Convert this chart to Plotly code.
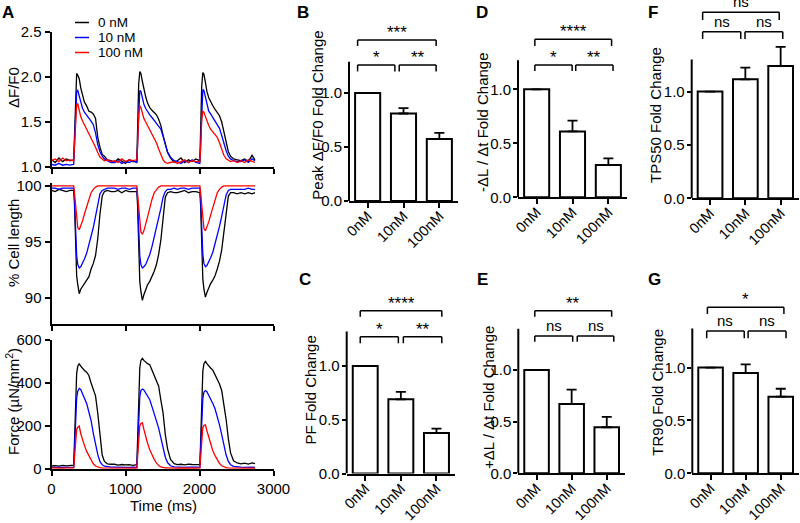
import plotly.graph_objects as go

W, H = 800, 523
FONT = "Liberation Sans, Arial, sans-serif"

# ---------------- data: panel A (time courses) ----------------
TIME_MS = [0, 50, 100, 150, 200, 250,
           300, 310, 325, 340, 355, 375, 395, 420, 445, 475, 505, 535, 565, 595, 625, 655, 685, 715, 755, 805,
           850, 900, 950, 1000, 1050, 1100,
           1153, 1163, 1178, 1193, 1208, 1228, 1248, 1273, 1298, 1328, 1358, 1388, 1418, 1448, 1478, 1508, 1538, 1568, 1608, 1658,
           1700, 1750, 1800, 1850, 1900, 1950,
           2005, 2015, 2030, 2045, 2060, 2080, 2100, 2125, 2150, 2180, 2210, 2240, 2270, 2300, 2330, 2360, 2390, 2420, 2460, 2510,
           2560, 2610, 2660, 2710, 2750]

DFF0_0NM = [1.08, 1.05, 1.10, 1.06, 1.09, 1.07,
            1.08, 1.35, 1.88, 2.04, 2.02, 1.98, 1.88, 1.81, 1.72, 1.68, 1.62, 1.61, 1.59, 1.54, 1.33, 1.22, 1.14, 1.12, 1.08, 1.07,
            1.05, 1.09, 1.06, 1.04, 1.08, 1.06,
            1.06, 1.40, 1.92, 2.06, 2.04, 1.95, 1.86, 1.78, 1.71, 1.66, 1.63, 1.60, 1.58, 1.53, 1.46, 1.35, 1.24, 1.16, 1.10, 1.05,
            1.07, 1.10, 1.05, 1.08, 1.06, 1.09,
            1.07, 1.38, 1.90, 2.05, 2.03, 1.94, 1.84, 1.77, 1.72, 1.68, 1.64, 1.60, 1.57, 1.50, 1.38, 1.26, 1.17, 1.12, 1.09, 1.08,
            1.07, 1.09, 1.06, 1.13, 1.08]
DFF0_10NM = [1.03, 1.02, 1.04, 1.02, 1.03, 1.02,
             1.03, 1.25, 1.70, 1.84, 1.85, 1.78, 1.72, 1.65, 1.61, 1.58, 1.54, 1.51, 1.47, 1.38, 1.25, 1.17, 1.12, 1.09, 1.07, 1.05,
             1.05, 1.07, 1.04, 1.06, 1.05, 1.07,
             1.05, 1.28, 1.72, 1.85, 1.84, 1.76, 1.70, 1.65, 1.61, 1.58, 1.55, 1.52, 1.49, 1.46, 1.42, 1.34, 1.25, 1.17, 1.11, 1.07,
             1.06, 1.04, 1.07, 1.05, 1.08, 1.05,
             1.04, 1.27, 1.72, 1.86, 1.85, 1.77, 1.68, 1.62, 1.59, 1.55, 1.52, 1.48, 1.43, 1.35, 1.26, 1.18, 1.12, 1.09, 1.07, 1.06,
             1.06, 1.08, 1.05, 1.09, 1.07]
DFF0_100NM = [1.07, 1.09, 1.06, 1.10, 1.07, 1.08,
              1.07, 1.22, 1.58, 1.69, 1.70, 1.62, 1.56, 1.51, 1.47, 1.43, 1.38, 1.33, 1.28, 1.22, 1.16, 1.11, 1.09, 1.07, 1.08, 1.06,
              1.07, 1.05, 1.09, 1.06, 1.08, 1.07,
              1.08, 1.22, 1.58, 1.68, 1.66, 1.59, 1.54, 1.50, 1.46, 1.41, 1.38, 1.32, 1.27, 1.20, 1.13, 1.08, 1.05, 1.04, 1.05, 1.06,
              1.04, 1.06, 1.08, 1.05, 1.07, 1.06,
              1.06, 1.20, 1.53, 1.62, 1.61, 1.56, 1.51, 1.46, 1.42, 1.39, 1.36, 1.33, 1.27, 1.20, 1.13, 1.09, 1.07, 1.06, 1.07, 1.05,
              1.07, 1.05, 1.08, 1.06, 1.05]

LEN_0NM = [99.6, 99.5, 99.7, 99.6, 99.5, 99.6,
           99.6, 98.5, 94.5, 92.0, 91.2, 90.4, 90.8, 91.1, 91.3, 91.6, 91.9, 92.6, 93.1, 93.8, 95.3, 97.5, 99.1, 99.5, 99.6, 99.5,
           99.5, 99.6, 99.4, 99.6, 99.5, 99.5,
           99.5, 98.3, 94.0, 91.5, 90.6, 89.8, 90.3, 90.8, 91.2, 91.5, 91.9, 92.4, 93.0, 93.9, 95.2, 97.3, 99.0, 99.4, 99.5, 99.4,
           99.4, 99.5, 99.6, 99.4, 99.5, 99.5,
           99.4, 98.3, 94.2, 91.7, 90.8, 90.1, 90.5, 91.0, 91.3, 91.6, 92.0, 92.6, 93.3, 94.3, 95.8, 97.8, 99.1, 99.4, 99.4, 99.3,
           99.4, 99.3, 99.4, 99.3, 99.4]
LEN_10NM = [99.8, 99.8, 99.7, 99.8, 99.8, 99.8,
            99.8, 98.9, 96.0, 93.8, 93.0, 92.7, 92.8, 93.1, 93.5, 94.0, 94.7, 95.5, 96.3, 97.3, 98.4, 99.3, 99.6, 99.7, 99.8, 99.8,
            99.8, 99.7, 99.8, 99.8, 99.7, 99.8,
            99.8, 98.9, 96.0, 93.8, 93.0, 92.7, 92.8, 93.0, 93.4, 93.9, 94.6, 95.4, 96.3, 97.1, 98.0, 99.0, 99.5, 99.7, 99.7, 99.8,
            99.7, 99.8, 99.8, 99.7, 99.8, 99.8,
            99.8, 98.9, 96.1, 93.9, 93.1, 92.8, 92.9, 93.2, 93.6, 94.1, 94.8, 95.6, 96.4, 97.3, 98.3, 99.2, 99.6, 99.7, 99.7, 99.7,
            99.7, 99.7, 99.8, 99.7, 99.7]
LEN_100NM = [100.0, 100.0, 99.95, 100.0, 100.0, 100.0,
             100.0, 99.4, 98.2, 97.0, 96.3, 96.1, 96.4, 96.9, 97.5, 98.2, 98.8, 99.4, 99.7, 99.9, 100.0, 100.0, 100.0, 99.95, 100.0, 100.0,
             100.0, 100.0, 99.95, 100.0, 100.0, 100.0,
             100.0, 99.3, 97.9, 96.6, 95.9, 95.7, 96.0, 96.6, 97.3, 98.1, 98.8, 99.4, 99.7, 99.9, 100.0, 100.0, 100.0, 100.0, 100.0, 100.0,
             100.0, 99.95, 100.0, 100.0, 100.0, 100.0,
             100.0, 99.4, 98.1, 96.8, 96.2, 96.0, 96.3, 96.8, 97.4, 98.1, 98.8, 99.4, 99.7, 99.9, 100.0, 100.0, 100.0, 100.0, 100.0, 100.0,
             100.0, 99.95, 100.0, 100.0, 100.0]

FORCE_0NM = [14, 16, 13, 17, 15, 18,
             18, 120, 330, 445, 478, 490, 478, 465, 458, 450, 435, 400, 370, 340, 260, 150, 65, 35, 24, 22,
             22, 18, 21, 19, 20, 17,
             20, 130, 350, 470, 505, 515, 505, 495, 490, 485, 460, 435, 410, 385, 320, 260, 160, 95, 45, 25,
             20, 22, 19, 23, 21, 20,
             20, 125, 340, 455, 490, 500, 490, 478, 470, 460, 440, 420, 395, 365, 300, 230, 140, 75, 38, 28,
             24, 27, 23, 28, 25]
FORCE_10NM = [8, 7, 9, 8, 8, 7,
              8, 80, 230, 330, 362, 375, 370, 352, 330, 305, 265, 225, 166, 112, 68, 34, 20, 13, 10, 9,
              9, 8, 10, 9, 8, 9,
              8, 80, 235, 335, 365, 372, 368, 355, 340, 322, 290, 258, 225, 190, 145, 98, 55, 30, 15, 10,
              9, 10, 8, 9, 10, 9,
              8, 78, 228, 328, 358, 365, 360, 345, 325, 305, 280, 245, 205, 160, 110, 65, 35, 20, 12, 9,
              9, 8, 10, 9, 8]
FORCE_100NM = [5, 4, 5, 4, 5, 5,
               5, 50, 140, 185, 195, 200, 165, 135, 110, 82, 60, 38, 24, 14, 9, 6, 5, 5, 5, 4,
               5, 4, 5, 5, 4, 5,
               4, 55, 150, 200, 212, 215, 185, 150, 120, 90, 65, 45, 28, 16, 10, 7, 5, 5, 4, 4,
               4, 5, 4, 5, 4, 4,
               5, 52, 145, 192, 203, 205, 178, 145, 115, 85, 62, 42, 26, 15, 9, 6, 5, 5, 4, 4,
               5, 4, 5, 4, 4]

SERIES_NAMES = ["0 nM", "10 nM", "100 nM"]
SERIES_COLORS = ["#000000", "#0000ff", "#ff0000"]

# ---------------- data: bar panels ----------------
CATEGORIES = ["0nM", "10nM", "100nM"]
PEAK_DFF0 = [1.0, 0.81, 0.575]
PEAK_DFF0_SEM = [0, 0.05, 0.055]
PF = [1.0, 0.69, 0.377]
PF_SEM = [0, 0.07, 0.04]
NEG_DLDT = [1.0, 0.61, 0.30]
NEG_DLDT_SEM = [0, 0.10, 0.06]
POS_DLDT = [1.0, 0.67, 0.446]
POS_DLDT_SEM = [0, 0.14, 0.10]
TPS50 = [1.0, 1.115, 1.24]
TPS50_SEM = [0, 0.11, 0.18]
TR90 = [1.0, 0.95, 0.725]
TR90_SEM = [0, 0.08, 0.075]


def xp(v):
    return v / W


def yp(v):
    return 1 - v / H


fig = go.Figure()
layout = dict(width=W, height=H, margin=dict(l=0, r=0, t=0, b=0, pad=0, autoexpand=False),
              paper_bgcolor="white", plot_bgcolor="white", showlegend=False,
              font=dict(family=FONT, color="black", size=15))
shapes = []
annotations = []

axis_common = dict(showline=True, linewidth=2, linecolor="black", ticks="outside",
                   ticklen=5, tickwidth=1.5, tickcolor="black", showgrid=False,
                   zeroline=False, automargin=False, tickfont=dict(size=15, family=FONT))

# ---------------- panel A ----------------
A_XDOM = [xp(51.5), xp(273.5)]
A_PANELS = [
    ([DFF0_0NM, DFF0_10NM, DFF0_100NM], (167, 32), [1.0, 2.5], [1.0, 1.5, 2.0, 2.5], ["1.0", "1.5", "2.0", "2.5"], False),
    ([LEN_0NM, LEN_10NM, LEN_100NM], (324, 182.6), [87.7, 100.3], [90, 95, 100], ["90", "95", "100"], False),
    ([FORCE_0NM, FORCE_10NM, FORCE_100NM], (469, 340), [0, 600], [0, 200, 400, 600], ["0", "200", "400", "600"], True),
]
for i, (series, (yb, yt), yr, tv, tt, labels) in enumerate(A_PANELS, start=1):
    sx = "" if i == 1 else str(i)
    for vals, name, col in zip(series, SERIES_NAMES, SERIES_COLORS):
        fig.add_trace(go.Scatter(x=TIME_MS, y=vals, mode="lines", name=name,
                                 line=dict(color=col, width=1.3),
                                 xaxis="x" + sx, yaxis="y" + sx))
    layout["xaxis" + sx] = dict(axis_common, domain=A_XDOM, range=[0, 3000], anchor="y" + sx,
                                tickvals=[0, 1000, 2000, 3000],
                                ticktext=["0", "1000", "2000", "3000"],
                                showticklabels=labels)
    layout["yaxis" + sx] = dict(axis_common, domain=[yp(yb), yp(yt)], range=yr, anchor="x" + sx,
                                tickvals=tv, ticktext=tt)

# axis titles panel A
for txt, (cx, cy) in [("ΔF/F0", (13, 88)), ("% Cell length", (13, 243)),
                      ("Force (µN/mm<sup>2</sup>)", (13, 402))]:
    annotations.append(dict(text=txt, x=xp(cx), y=yp(cy), xref="paper", yref="paper",
                            textangle=-90, showarrow=False, xanchor="center", yanchor="middle",
                            font=dict(size=15)))
annotations.append(dict(text="Time (ms)", x=xp(163), y=yp(505), xref="paper", yref="paper",
                        showarrow=False, xanchor="center", yanchor="middle", font=dict(size=15)))

# legend (manual)
for j, (name, col) in enumerate(zip(SERIES_NAMES, SERIES_COLORS)):
    ly = 22.5 + 15 * j
    shapes.append(dict(type="line", xref="paper", yref="paper", x0=xp(75), x1=xp(89),
                       y0=yp(ly), y1=yp(ly), line=dict(color=col, width=1.5)))
    annotations.append(dict(text=name, x=xp(96), y=yp(ly), xref="paper", yref="paper",
                            showarrow=False, xanchor="left", yanchor="middle", font=dict(size=13.5)))

# ---------------- bar panels ----------------
BAR_PANELS = [
    # key, values, sem, (x0px, x1px, zero_py, px_per_unit, top_py), axis_top, title, title_pos, brackets
    ("4", PEAK_DFF0, PEAK_DFF0_SEM, (349, 458, 201, 108, 4), 1.29, "Peak ΔF/F0 Fold Change", (316.7, 115),
     [(-0.28, 0.76, 1.26, 1.20, "*"), (0.88, 1.91, 1.26, 1.20, "**"), (-0.28, 1.91, 1.49, 1.435, "***")]),
    ("5", PF, PF_SEM, (346.7, 455, 473.5, 107.5, 268), 1.32, "PF Fold Change", (309.5, 390),
     [(-0.14, 0.93, 1.273, 1.211, "*"), (1.07, 2.15, 1.273, 1.211, "**"), (-0.14, 2.15, 1.514, 1.459, "****")]),
    ("6", NEG_DLDT, NEG_DLDT_SEM, (518, 627, 197.3, 108, 4), 1.27, "-ΔL / Δt Fold Change", (482, 122),
     [(-0.05, 0.99, 1.225, 1.169, "*"), (1.09, 2.13, 1.225, 1.169, "**"), (-0.05, 2.09, 1.463, 1.40, "****")]),
    ("7", POS_DLDT, POS_DLDT_SEM, (518.3, 625, 473.3, 103.3, 268), 1.40, "+ΔL / Δt Fold Change", (488, 398),
     [(-0.05, 1.03, 1.329, 1.274, "ns"), (1.16, 2.2, 1.329, 1.274, "ns"), (-0.05, 2.14, 1.574, 1.516, "**")]),
    ("8", TPS50, TPS50_SEM, (691.7, 799, 198.3, 106.7, 0), 1.30, "TPS50 Fold Change", (655, 115),
     [(-0.21, 0.87, 1.561, 1.493, "ns"), (0.99, 2.06, 1.561, 1.493, "ns"), (-0.21, 1.96, 1.743, 1.672, "ns")]),
    ("9", TR90, TR90_SEM, (692.3, 799, 473.3, 105.7, 268), 1.37, "TR90 Fold Change", (656.7, 392),
     [(-0.11, 0.96, 1.346, 1.277, "ns"), (1.07, 2.15, 1.346, 1.277, "ns"), (-0.09, 2.09, 1.570, 1.507, "*")]),
]

for key, vals, sem, (x0p, x1p, zp, ppu, tp), ytop, title, (tx, ty), brackets in BAR_PANELS:
    fig.add_trace(go.Bar(x=CATEGORIES, y=vals, width=0.7,
                         marker=dict(color="white", line=dict(color="black", width=2)),
                         error_y=dict(type="data", symmetric=False, array=sem,
                                      arrayminus=[0, 0, 0], color="black", thickness=1.8, width=5),
                         xaxis="x" + key, yaxis="y" + key))
    layout["xaxis" + key] = dict(axis_common, type="category", domain=[xp(x0p), xp(x1p)],
                                 range=[-0.52, 2.52], anchor="y" + key, tickangle=-45,
                                 ticklabelstandoff=-6,
                                 tickfont=dict(size=14.5, family=FONT))
    layout["yaxis" + key] = dict(axis_common, domain=[yp(zp), yp(tp)], range=[0, (zp - tp) / ppu],
                                 anchor="x" + key, showline=False, ticklen=4,
                                 ticklabelstandoff=-1,
                                 tickvals=[0, 0.5, 1.0], ticktext=["0.0", "0.5", "1.0"],
                                 tickfont=dict(size=15, family=FONT))
    shapes.append(dict(type="line", xref="x" + key + " domain", yref="y" + key,
                       x0=0, x1=0, y0=0, y1=ytop, line=dict(color="black", width=2)))
    annotations.append(dict(text=title, x=xp(tx), y=yp(ty), xref="paper", yref="paper",
                            textangle=-90, showarrow=False, xanchor="center", yanchor="middle",
                            font=dict(size=15)))
    for bx0, bx1, by, bleg, btxt in brackets:
        for (sx0, sx1, sy0, sy1) in [(bx0, bx0, bleg, by), (bx0, bx1, by, by), (bx1, bx1, by, bleg)]:
            shapes.append(dict(type="line", xref="x" + key, yref="y" + key,
                               x0=sx0, x1=sx1, y0=sy0, y1=sy1,
                               line=dict(color="black", width=1.5)))
        star = btxt.startswith("*")
        annotations.append(dict(text=btxt, x=(bx0 + bx1) / 2, y=by, xref="x" + key, yref="y" + key,
                                showarrow=False, xanchor="center", yanchor="bottom",
                                yshift=-4 if star else 0,
                                font=dict(size=17 if star else 15)))

# panel letters
for letter, (lx, ly) in [("A", (8, 12)), ("B", (303, 12)), ("D", (482, 12)), ("F", (653, 12)),
                         ("C", (305, 279)), ("E", (482, 279)), ("G", (654, 279))]:
    annotations.append(dict(text="<b>%s</b>" % letter, x=xp(lx), y=yp(ly), xref="paper", yref="paper",
                            showarrow=False, xanchor="center", yanchor="middle",
                            font=dict(size=17, family=FONT)))

layout["shapes"] = shapes
layout["annotations"] = annotations
fig.update_layout(**layout)
fig.write_html("out.html", config={"displayModeBar": False},
               post_script="document.body.style.margin='0';document.body.style.padding='0';")
